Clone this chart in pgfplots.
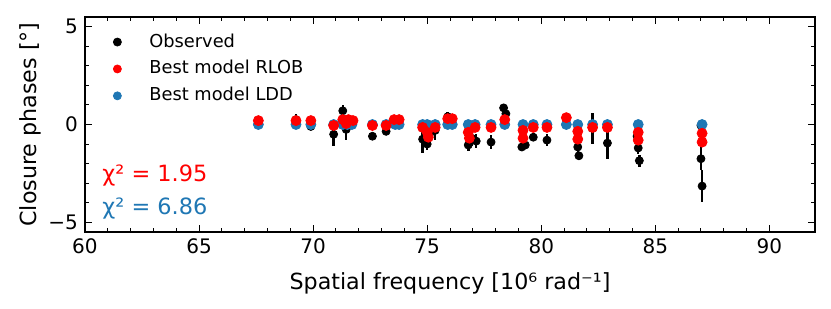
\documentclass[border=0pt]{standalone}
\usepackage{pgfplots}
\pgfplotsset{compat=1.18}
\usepackage{pgfplotstable}
\usepackage{fontspec}
\setmainfont{DejaVu Sans}
\definecolor{mplblue}{HTML}{1F77B4}

\pgfplotstableread{
x y e
67.6 0.1 0.15
69.25 0.25 0.3
69.9 -0.1 0.2
70.9 -0.5 0.6
71.3 0.7 0.3
71.45 -0.25 0.55
71.6 0.1 0.3
72.6 -0.6 0.15
73.2 -0.35 0.15
73.6 0.1 0.15
73.75 0.15 0.15
74.8 -0.75 0.7
75.0 -1.0 0.3
75.1 -0.5 0.4
75.35 -0.3 0.5
75.9 0.4 0.25
76.05 0.2 0.2
76.8 -1.05 0.3
76.95 -0.7 0.4
77.15 -0.85 0.35
77.8 -0.9 0.35
78.35 0.85 0.2
78.45 0.55 0.2
79.15 -1.15 0.2
79.3 -1.05 0.2
79.65 -0.65 0.2
80.25 -0.8 0.3
81.1 0.35 0.15
81.6 -1.15 0.35
81.65 -1.6 0.2
82.25 -0.2 0.8
82.9 -0.95 0.8
84.2 -0.6 0.3
84.25 -1.2 0.3
84.3 -1.85 0.3
87.0 -0.05 0.3
87.0 -1.75 0.6
87.05 -3.15 0.8
}\observed

\pgfplotstableread{
x y
67.6 0.2
69.25 0.2
69.9 0.2
70.9 -0.05
71.3 0.25
71.45 0.05
71.55 0.25
71.75 0.2
72.6 -0.05
73.2 -0.05
73.55 0.25
73.77 0.25
74.8 -0.15
75.0 -0.4
75.05 -0.65
75.35 -0.15
75.9 0.3
76.1 0.3
76.8 -0.4
76.85 -0.7
77.1 -0.15
77.8 -0.15
78.4 0.25
79.2 -0.3
79.2 -0.7
79.65 -0.15
80.25 -0.15
81.1 0.35
81.6 -0.35
81.6 -0.75
82.25 -0.15
82.9 -0.15
84.25 -0.4
84.25 -0.8
87.05 -0.45
87.05 -0.9
}\rlob

\pgfplotstableread{
x y
67.6 0
69.25 0
69.9 0
70.9 0
71.3 0
71.5 0
71.7 0
72.6 0
73.2 0
73.6 0
73.77 0
74.8 0
75.0 0
75.35 0
75.9 0
76.1 0
76.8 0
77.1 0
77.8 0
78.4 0
79.2 0
79.65 0
80.25 0
81.1 0
81.6 0
82.25 0
82.9 0
84.25 0
87.05 0
}\ldd

\begin{document}
\begin{tikzpicture}
\begin{axis}[
  scale only axis,
  width=365pt, height=107.5pt,
  xmin=60, xmax=92, ymin=-5.5, ymax=5.5,
  xtick={60,65,70,75,80,85,90},
  xticklabels={60,65,70,75,80,85,90},
  minor x tick num=4,
  ytick={-5,0,5},
  yticklabels={−5,0,5},
  minor y tick num=4,
  tick align=inside,
  xtick pos=both, ytick pos=both,
  major tick length=3.5pt, minor tick length=2pt,
  every tick/.style={black, line width=0.5pt},
  axis line style={line width=0.75pt},
  tick label style={font=\fontsize{10}{11}\selectfont},
  label style={font=\fontsize{11.1}{13}\selectfont},
  xlabel={Spatial frequency [10⁶ rad⁻¹]},
  ylabel={Closure phases [°]},
  xlabel style={at={(axis description cs:0.5,-0.237)}, anchor=center},
  ylabel style={at={(axis description cs:-0.0753,0.5)}, anchor=center},
  legend image code/.code={\path[draw=none,fill=none] (-14pt,0pt) -- (12pt,0pt); \draw[#1] plot coordinates {(0pt,0pt)};},
  legend style={draw=none, fill=none, at={(axis description cs:0.0,0.963)}, anchor=north west,
    inner sep=2pt, row sep=0.75pt,
    font=\fontsize{8.9}{11}\selectfont,
    nodes={text height=7pt, text depth=2pt, inner ysep=1.85pt, inner xsep=4pt}},
  legend cell align=left,
  clip=false,
]
\addplot[only marks, mark=*, mark size=2pt, black, forget plot,
  error bars/.cd, y dir=both, y explicit, error mark=none,
  error bar style={line width=1.25pt, black}]
  table[x=x, y=y, y error=e] {\observed};
\addplot[only marks, mark=*, mark size=2.5pt, mplblue, forget plot] table[x=x,y=y] {\ldd};
\addplot[only marks, mark=*, mark size=2.5pt, red, forget plot] table[x=x,y=y] {\rlob};

\addlegendimage{only marks, mark=*, mark size=2pt, black}
\addlegendentry{Observed}
\addlegendimage{only marks, mark=*, mark size=2pt, red}
\addlegendentry{Best model RLOB}
\addlegendimage{only marks, mark=*, mark size=2pt, mplblue}
\addlegendentry{Best model LDD}

\node[anchor=west, text=red, font=\fontsize{11.2}{13}\selectfont, inner sep=0pt] at (axis cs:60.75,-2.6) {χ² = 1.95};
\node[anchor=west, text=mplblue, font=\fontsize{11.2}{13}\selectfont, inner sep=0pt] at (axis cs:60.75,-4.3) {χ² = 6.86};
\path (axis description cs:-0.1164,-0.3535) rectangle (axis description cs:1.0219,1.079);
\end{axis}
\end{tikzpicture}
\end{document}
